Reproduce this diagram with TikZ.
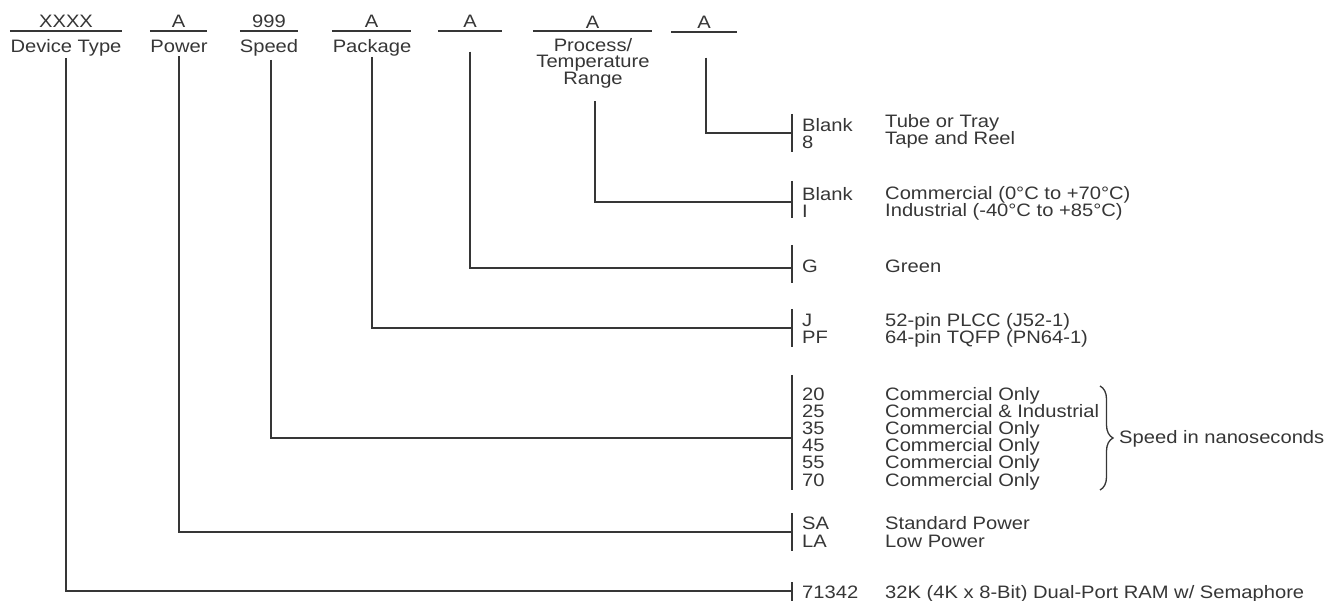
\documentclass[tikz,border=0pt]{standalone}
\usepackage{fontspec}
\setmainfont{Liberation Sans}
\newfontfamily\ordfont[FakeStretch=1.12]{Liberation Sans}
\usepackage{xcolor}
\usetikzlibrary{decorations.pathreplacing}
\definecolor{ink}{HTML}{363636}

\begin{document}
\begin{tikzpicture}[x=1pt, y=-1pt,
every node/.style={font=\ordfont\fontsize{18}{17.2}\selectfont, text=ink, inner sep=0pt},
fieldbox/.style={anchor=base, inner ysep=2.5pt},
partname/.style={anchor=base, align=center},
optcode/.style={anchor=base west, align=left},
optinfo/.style={anchor=base west, align=left},
inkline/.style={draw=ink, line width=1.8pt},
conn/.style={draw=ink, line width=1.6pt}]
    \useasboundingbox (0,0) rectangle (1328,601);

    % ordering code fields
    \node[fieldbox, minimum width=112pt] (fDev) at (66,28) {XXXX};
    \node[fieldbox, minimum width=57pt] (fPow) at (178.5,28) {A};
    \node[fieldbox, minimum width=58pt] (fSpd) at (269,28) {999};
    \node[fieldbox, minimum width=79pt] (fPkg) at (371.5,28) {A};
    \node[fieldbox, minimum width=64pt] (fGrn) at (470,28) {A};
    \node[fieldbox, minimum width=119pt] (fTmp) at (592.5,28.5) {A};
    \node[fieldbox, minimum width=65pt] (fPck) at (704,29) {A};
    \foreach \f in {fDev,fPow,fSpd,fPkg,fGrn,fTmp,fPck}
        \draw[inkline] (\f.south west) -- (\f.south east);

    \node[partname] (lDev) at (66,53) {Device Type};
    \node[partname] (lPow) at (179,53) {Power};
    \node[partname] (lSpd) at (269,53) {Speed};
    \node[partname] (lPkg) at (372,53) {Package};
    \node[partname, font=\ordfont\fontsize{18}{15.8}\selectfont] (lTmp) at (593,84.5) {Process/\\Temperature\\Range};

    % options (anchored at the last line)
    \node[optcode] (cPck) at (802,149) {Blank\\8};
    \node[optinfo] (iPck) at (885,145) {Tube or Tray\\Tape and Reel};
    \node[optcode] (cTmp) at (802,218) {Blank\\I};
    \node[optinfo] (iTmp) at (885,217) {Commercial (0°C to +70°C)\\Industrial (-40°C to +85°C)};
    \node[optcode] (cGrn) at (802,273) {G};
    \node[optinfo] (iGrn) at (885,273) {Green};
    \node[optcode] (cPkg) at (802,344) {J\\PF};
    \node[optinfo] (iPkg) at (885,344) {52-pin PLCC (J52-1)\\64-pin TQFP (PN64-1)};
    \node[optcode] (cSpd) at (802,486) {20\\25\\35\\45\\55\\70};
    \node[optinfo] (iSpd) at (885,486) {Commercial Only\\Commercial \& Industrial\\Commercial Only\\Commercial Only\\Commercial Only\\Commercial Only};
    \node[optinfo] (nSpd) at (1119,443) {Speed in nanoseconds};
    \node[optcode] (cPow) at (802,547) {SA\\LA};
    \node[optinfo] (iPow) at (885,547) {Standard Power\\Low Power};
    \node[optcode] (cDev) at (802,598) {71342};
    \node[optinfo] (iDev) at (885,598) {32K (4K x 8-Bit) Dual-Port RAM w/ Semaphore};

    % bars
    \draw[inkline] (792,114) -- (792,152);
    \draw[inkline] (792,181) -- (792,218);
    \draw[inkline] (792,245) -- (792,283);
    \draw[inkline] (792,309) -- (792,347);
    \draw[inkline] (792,375) -- (792,490);
    \draw[inkline] (792,513) -- (792,551);
    \draw[inkline] (792,582) -- (792,601);
    \coordinate (tPck) at (792,133);
    \coordinate (tTmp) at (792,202);
    \coordinate (tGrn) at (792,268);
    \coordinate (tPkg) at (792,328);
    \coordinate (tSpd) at (792,438);
    \coordinate (tPow) at (792,532);
    \coordinate (tDev) at (792,591);

    \draw[inkline, line width=1.3pt, decorate, decoration={brace, amplitude=13pt}] (1100,386) -- (1100,490);

    % connectors
    \draw[conn] ([yshift=-1pt]lDev.south) |- (tDev);
    \draw[conn] ([yshift=-3pt]lPow.south) |- (tPow);
    \draw[conn] ([xshift=2pt,yshift=-3pt]lSpd.south) |- (tSpd);
    \draw[conn] (lPkg.south) |- (tPkg);
    \draw[conn] ([yshift=-21pt]fGrn.south) |- (tGrn);
    \draw[conn] ([xshift=2pt,yshift=-13pt]lTmp.south) |- (tTmp);
    \draw[conn] ([xshift=2pt,yshift=-26pt]fPck.south) |- (tPck);
\end{tikzpicture}
\end{document}
